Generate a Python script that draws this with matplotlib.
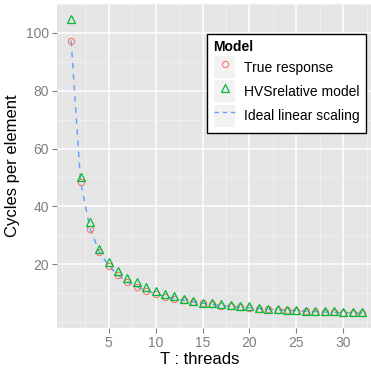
import matplotlib
matplotlib.use("Agg")
import matplotlib.pyplot as plt
from matplotlib.lines import Line2D
from matplotlib.patches import Rectangle
from matplotlib.legend_handler import HandlerTuple

plt.rcParams['font.family'] = ['Liberation Sans', 'DejaVu Sans']

threads = list(range(1, 33))
true_response = [97.3, 48.6, 32.3, 24.2, 19.4, 16.1, 13.9, 12.2, 10.8, 9.7,
                 8.8, 8.1, 7.5, 7.0, 6.5, 6.1, 5.7, 5.4, 5.1, 4.9,
                 4.6, 4.4, 4.2, 4.05, 3.9, 3.75, 3.6, 3.5, 3.35, 3.25, 3.15, 3.05]
hvs_model = [104.8, 50.1, 34.6, 25.3, 20.8, 17.7, 15.3, 13.7, 12.2, 10.7,
             9.6, 8.9, 8.1, 7.2, 6.7, 6.7, 6.2, 5.75, 5.6, 5.5,
             4.8, 4.5, 4.4, 4.15, 4.1, 3.95, 3.9, 3.8, 3.7, 3.6, 3.55, 3.45]
ideal = [97.3 / t for t in threads]

x_ticks = [5, 10, 15, 20, 25, 30]
y_ticks = [20, 40, 60, 80, 100]
x_minor = [0, 2.5, 7.5, 12.5, 17.5, 22.5, 27.5, 32.5]
y_minor = [0, 10, 30, 50, 70, 90, 110]

RED, GREEN, BLUE = '#F8766D', '#00BA38', '#619CFF'

fig = plt.figure(figsize=(3.71, 3.69), dpi=100)
ax = fig.add_axes([56.7 / 371, 1 - 328.3 / 369, 1 - 56.7 / 371, (328.3 - 4) / 369])
ax.set_facecolor('#E5E5E5')
for s in ax.spines.values():
    s.set_visible(False)

ax.set_xlim(-0.54, 32.95)
ax.set_ylim(-2.17, 109.7)
ax.set_xticks(x_ticks)
ax.set_yticks(y_ticks)
ax.set_xticks(x_minor, minor=True)
ax.set_yticks(y_minor, minor=True)
ax.grid(which='major', color='white', linewidth=1.1)
ax.grid(which='minor', color='#F2F2F2', linewidth=0.55)
ax.set_axisbelow(True)
ax.tick_params(which='major', length=3.5, width=0.8, color='#7F7F7F',
               labelcolor='#7F7F7F', labelsize=10, pad=2)
ax.tick_params(which='minor', length=0)

ax.plot(threads, ideal, linestyle=(0, (4, 4)), color=BLUE, linewidth=1.0, zorder=2)
ax.plot(threads, true_response, linestyle='none', marker='o', markersize=4.5,
        markerfacecolor='none', markeredgecolor=RED, markeredgewidth=0.8, zorder=3)
ax.plot(threads, hvs_model, linestyle='none', marker='^', markersize=5.4,
        markerfacecolor='none', markeredgecolor=GREEN, markeredgewidth=0.9, zorder=4)

ax.set_xlabel('T : threads', fontsize=12, va='baseline')
ax.xaxis.set_label_coords((200 - 56.7) / (371 - 56.7), -(364.3 - 328.3) / 324.3)
ax.set_ylabel('Cycles per element', fontsize=12, labelpad=4)

def keybox():
    return Rectangle((0, 0), 1, 1, facecolor='#F2F2F2', edgecolor='none')

h1 = (keybox(), Line2D([], [], linestyle='none', marker='o', markersize=4.5,
                       markerfacecolor='none', markeredgecolor=RED, markeredgewidth=0.8))
h2 = (keybox(), Line2D([], [], linestyle='none', marker='^', markersize=5.4,
                       markerfacecolor='none', markeredgecolor=GREEN, markeredgewidth=0.9))
h3 = (keybox(), Line2D([], [], linestyle=(0, (3, 3)), color=BLUE, linewidth=1.0))

leg = ax.legend([h1, h2, h3], ['True response', 'HVSrelative model', 'Ideal linear scaling'],
                handler_map={tuple: HandlerTuple(ndivide=1, pad=0)},
                title='Model', loc='upper left',
                bbox_to_anchor=(207.3 / 371, 1 - 34 / 369), bbox_transform=fig.transFigure,
                borderaxespad=0, fontsize=10, title_fontsize=10,
                handlelength=1.58, handleheight=2.06, handletextpad=0.6,
                labelspacing=0.15, borderpad=0.45, frameon=True, fancybox=False,
                alignment='left')
leg.get_title().set_fontweight('bold')
frame = leg.get_frame()
frame.set_edgecolor('black')
frame.set_linewidth(1.0)
frame.set_facecolor('white')
frame.set_alpha(1)

fig.savefig('out.png', dpi=100)
